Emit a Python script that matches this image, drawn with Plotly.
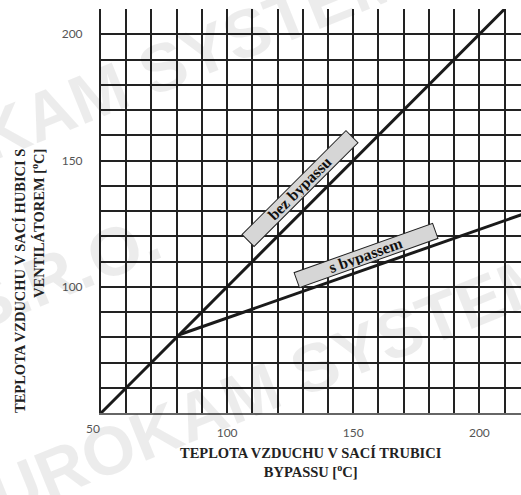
import plotly.graph_objects as go

# Data
bez_x = [50, 210]
bez_y = [50, 210]
s_x = [81, 220]
s_y = [81, 129.7]
x_ticks = [100, 150, 200]
y_ticks = [100, 150, 200]

x_range = [50, 216.5]
y_range = [50, 210]

fig = go.Figure()
fig.add_trace(go.Scatter(x=bez_x, y=bez_y, mode="lines",
                         line=dict(color="#1a1a1a", width=3), showlegend=False, hoverinfo="skip"))
fig.add_trace(go.Scatter(x=s_x, y=s_y, mode="lines",
                         line=dict(color="#1a1a1a", width=3), showlegend=False, hoverinfo="skip"))

tick_font = dict(family="Lato", size=12, color="#555")
serif_bold = dict(family="Liberation Serif", size=14.5, color="#222", weight="bold")

fig.update_xaxes(range=x_range, tickmode="array", tickvals=x_ticks,
                 ticktext=[str(v) for v in x_ticks], showgrid=True, automargin=False,
                 gridcolor="#222", gridwidth=1.6, zeroline=False,
                 showline=True, linecolor="#666", linewidth=2,
                 ticks="", tickfont=tick_font, ticklabelstandoff=8)
fig.update_yaxes(range=y_range, tickmode="array", tickvals=y_ticks,
                 ticktext=[str(v) for v in y_ticks], showgrid=True, automargin=False,
                 gridcolor="#222", gridwidth=1.6, zeroline=False,
                 showline=True, linecolor="#222", linewidth=2,
                 ticks="", tickfont=tick_font, ticklabelstandoff=14)

# dense grid via minor ticks
fig.update_xaxes(minor=dict(dtick=10, tick0=50, showgrid=True, gridcolor="#222", gridwidth=1.6))
fig.update_yaxes(minor=dict(dtick=10, tick0=50, showgrid=True, gridcolor="#222", gridwidth=1.6))

PW, PH = 420, 404

annotations = []
# watermark
wm_font = dict(family="Liberation Sans", size=68, color="rgba(0,0,0,0.075)", weight="bold")
annotations.append(dict(text="EUROKAM SYSTEM", xref="paper", yref="paper",
                        x=(100 - 101) / PW, y=1 - (92 - 9) / PH, showarrow=False,
                        textangle=-22, font=wm_font, xanchor="center", yanchor="middle"))
annotations.append(dict(text="EUROKAM SYSTEM", xref="paper", yref="paper",
                        x=(252 - 101) / PW, y=1 - (392 - 9) / PH, showarrow=False,
                        textangle=-22, font=wm_font, xanchor="center", yanchor="middle"))
annotations.append(dict(text="S.R.O.", xref="paper", yref="paper",
                        x=(62 - 101) / PW, y=1 - (272 - 9) / PH, showarrow=False,
                        textangle=-22, font=wm_font, xanchor="center", yanchor="middle"))

# label boxes
box_font = dict(family="Liberation Serif", size=16, color="#111", weight="bold")
annotations.append(dict(text="bez bypassu", x=128.7, y=138.8, xref="x", yref="y",
                        showarrow=False, textangle=-45, width=144, height=14,
                        bgcolor="#d6d6d6", bordercolor="#222", borderwidth=1, borderpad=1,
                        font=box_font, xanchor="center", yanchor="middle"))
annotations.append(dict(text="s bypassem", x=155.1, y=112.4, xref="x", yref="y",
                        showarrow=False, textangle=-19.6, width=144, height=13,
                        bgcolor="#d6d6d6", bordercolor="#222", borderwidth=1, borderpad=1,
                        font=box_font, xanchor="center", yanchor="middle"))

# corner tick label
annotations.append(dict(text="50", x=50, y=50, xref="x", yref="y", showarrow=False,
                        xshift=-8, yshift=-15, font=tick_font))

# axis titles
annotations.append(dict(text="TEPLOTA VZDUCHU V SACÍ TRUBICI<br>BYPASSU [<sup>o</sup>C]",
                        xref="paper", yref="paper", x=(311 - 101) / PW, y=1 - (462 - 9) / PH,
                        showarrow=False, font=serif_bold, align="center",
                        xanchor="center", yanchor="middle"))
annotations.append(dict(text="TEPLOTA VZDUCHU V SACÍ HUBICI S<br>VENTILÁTOREM [<sup>o</sup>C]",
                        xref="paper", yref="paper", x=(29 - 101) / PW, y=1 - (281 - 9) / PH,
                        showarrow=False, font=serif_bold, align="right", textangle=-90,
                        xanchor="center", yanchor="middle"))

fig.update_layout(width=521, height=495, margin=dict(l=101, r=0, t=9, b=82),
                  plot_bgcolor="white", paper_bgcolor="white",
                  annotations=annotations, showlegend=False)

fig.write_html("out.html", config={"displayModeBar": False},
               post_script="document.body.style.margin='0';document.body.style.overflow='hidden';")
